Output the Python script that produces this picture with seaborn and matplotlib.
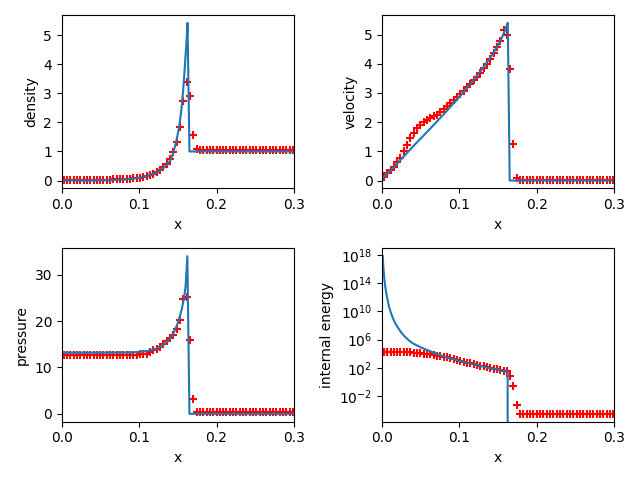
import matplotlib
matplotlib.use("Agg")
import matplotlib.pyplot as plt
import seaborn as sns

# cell centres of the numerical grid (up to x = 0.3)
x_cells = [0.0022, 0.0065, 0.0108, 0.0151, 0.0194, 0.0237, 0.0280, 0.0323, 0.0366, 0.0409,
           0.0452, 0.0495, 0.0538, 0.0581, 0.0624, 0.0667, 0.0710, 0.0753, 0.0796, 0.0839,
           0.0882, 0.0925, 0.0968, 0.1011, 0.1054, 0.1097, 0.1140, 0.1183, 0.1226, 0.1269,
           0.1312, 0.1355, 0.1398, 0.1441, 0.1484, 0.1527, 0.1570, 0.1613, 0.1656, 0.1699,
           0.1742, 0.1785, 0.1828, 0.1871, 0.1914, 0.1957, 0.2000, 0.2043, 0.2086, 0.2129,
           0.2172, 0.2215, 0.2258, 0.2301, 0.2344, 0.2387, 0.2430, 0.2473, 0.2516, 0.2559,
           0.2602, 0.2645, 0.2688, 0.2731, 0.2774, 0.2817, 0.2860, 0.2903, 0.2946, 0.2989]

# numerical solution (red markers)
rho_num = ([0.03] * 13 + [0.035, 0.035, 0.04, 0.04]
           + [0.045, 0.05, 0.06, 0.07, 0.08, 0.09, 0.10, 0.12, 0.15, 0.19, 0.23, 0.29,
              0.36, 0.45, 0.58, 0.75, 0.98, 1.33, 1.83, 2.75, 3.39, 2.89, 1.57, 1.08]
           + [1.04] * 29)
vel_num = ([0.12, 0.25, 0.37, 0.48, 0.62, 0.78, 1.00, 1.22, 1.45, 1.64,
            1.80, 1.91, 2.02, 2.09, 2.14, 2.20, 2.26, 2.34, 2.45, 2.55,
            2.65, 2.76, 2.86, 2.96, 3.07, 3.19, 3.31, 3.43, 3.56, 3.70,
            3.84, 4.00, 4.17, 4.36, 4.56, 4.77, 5.15, 4.98, 3.83, 1.26, 0.10]
           + [0.03] * 29)
p_num = ([12.7] * 23
         + [12.8, 12.9, 13.0, 13.4, 13.7, 14.0, 14.5, 15.0, 15.6, 16.3,
            17.1, 18.2, 20.2, 24.7, 25.1, 15.9, 3.3, 0.5]
         + [0.3] * 29)
e_num = ([1.78e4] * 9
         + [1.41e4, 1.26e4, 1.12e4, 1.0e4, 8.9e3, 7.9e3, 7.1e3, 5.6e3, 5.2e3, 4.0e3,
            3.0e3, 2.3e3, 1.74e3, 1.32e3, 1.0e3, 759, 575, 437, 331, 257,
            200, 158, 126, 100, 79, 63, 50, 42, 32, 7.2, 0.3, 6.3e-4]
         + [3.2e-5] * 29)

# exact (Sedov) solution, blue lines
rho_x = [0.0, 0.02, 0.04, 0.06, 0.08, 0.09, 0.10, 0.11, 0.12, 0.13, 0.135, 0.14, 0.144,
         0.148, 0.151, 0.153, 0.155, 0.157, 0.159, 0.1605, 0.162, 0.1625, 0.165, 0.3]
rho_exact = [0.0, 0.0, 0.002, 0.01, 0.035, 0.06, 0.1, 0.16, 0.25, 0.4, 0.52, 0.68, 0.94,
             1.35, 1.75, 2.1, 2.55, 3.15, 3.9, 4.5, 5.1, 5.42, 1.0, 1.0]

vel_x = [0.0, 0.02, 0.04, 0.06, 0.08, 0.10, 0.11, 0.12, 0.13, 0.14, 0.15, 0.155, 0.16,
         0.1625, 0.165, 0.3]
vel_exact = [0.05, 0.6, 1.17, 1.72, 2.28, 2.87, 3.18, 3.5, 3.84, 4.22, 4.63, 4.9, 5.22,
             5.40, 0.0, 0.0]

p_x = [0.0, 0.05, 0.09, 0.10, 0.11, 0.12, 0.13, 0.14, 0.145, 0.15, 0.155, 0.158, 0.16,
       0.1623, 0.165, 0.3]
p_exact = [13.2, 13.2, 13.25, 13.35, 13.55, 13.9, 14.6, 16.2, 17.6, 19.6, 22.5, 25.0,
           27.5, 34.0, 0.0, 0.0]

e_x = [0.0008, 0.001, 0.0015, 0.002, 0.003, 0.004, 0.005, 0.007, 0.009, 0.011, 0.014,
       0.017, 0.020, 0.025, 0.030, 0.035, 0.040, 0.050, 0.060, 0.070, 0.080, 0.090,
       0.100, 0.120, 0.140, 0.155, 0.1623, 0.1625, 0.3]
e_exact = [6.3e17, 2e17, 2e16, 4e15, 2.5e14, 3.2e13, 6.3e12, 4e11, 4e10, 8e9, 1e9,
           2e8, 5.8e7, 9e6, 2.2e6, 7e5, 2.8e5, 8e4, 2.8e4, 1e4, 4e3, 2e3,
           1e3, 2.8e2, 90, 40, 27, 0.0, 0.0]

panels = [
    ("density", rho_x, rho_exact, rho_num),
    ("velocity", vel_x, vel_exact, vel_num),
    ("pressure", p_x, p_exact, p_num),
    ("internal energy", e_x, e_exact, e_num),
]

fig, axes = plt.subplots(2, 2, figsize=(6.4, 4.8), dpi=100)

for ax, (name, xe, ye, ynum) in zip(axes.flat, panels):
    sns.scatterplot(x=x_cells, y=ynum, ax=ax, marker="+", color="red", s=36, linewidth=1.5)
    sns.lineplot(x=xe, y=ye, ax=ax, estimator=None, sort=False, color="C0")
    ax.set_xlim(0, 0.3)
    ax.set_xlabel("x")
    ax.set_ylabel(name)
    if name == "internal energy":
        ax.set_yscale("log")

plt.tight_layout()
plt.savefig("out.png", dpi=100)
plt.close()
